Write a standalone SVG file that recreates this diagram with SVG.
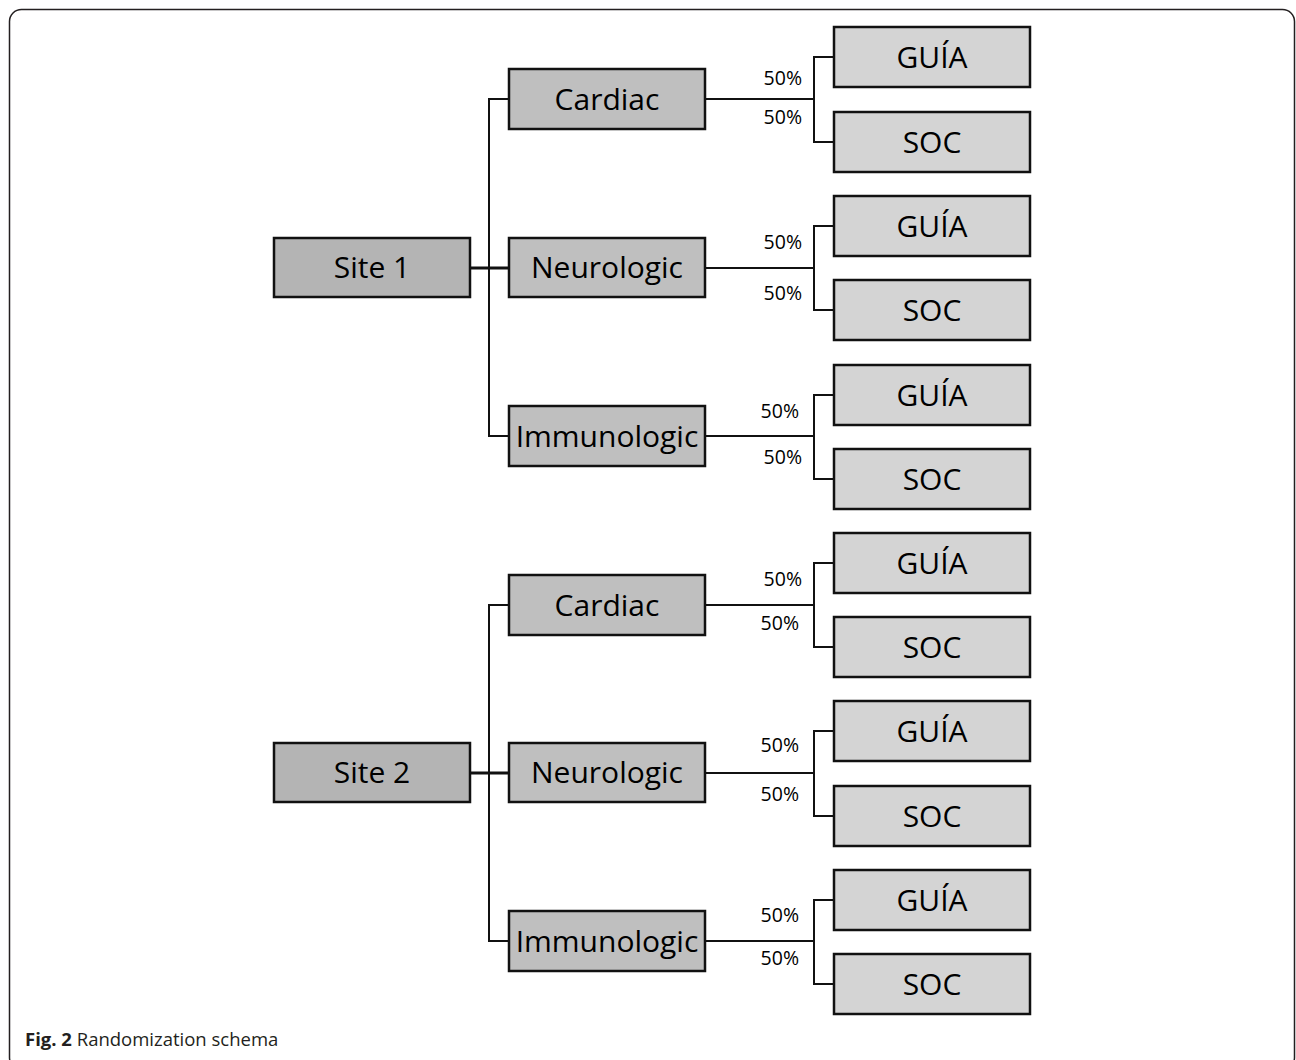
<svg xmlns="http://www.w3.org/2000/svg" width="1296" height="1060" viewBox="0 0 1296 1060">
<style>
.frame{fill:#fff;stroke:#231f20;stroke-width:1.5}
.site{fill:#b4b4b4;stroke:#111;stroke-width:2.5}
.cat{fill:#bfbfbf;stroke:#111;stroke-width:2.5}
.leaf{fill:#d4d4d4;stroke:#111;stroke-width:2.5}
.lbl{font-family:"Open Sans","Liberation Sans",sans-serif;font-size:30px;fill:#000;text-anchor:middle}
.pct{font-family:"Open Sans","Liberation Sans",sans-serif;font-size:19.5px;fill:#000;text-anchor:end}
.ln{fill:none;stroke:#111;stroke-width:2}
.thick{fill:none;stroke:#111;stroke-width:3}
.cap{font-family:"Open Sans","Liberation Sans",sans-serif;font-size:18.5px;fill:#231f20}
</style>
<rect class="frame" x="9.5" y="9.5" width="1285" height="1060" rx="12"/>
<g id="connectors">
<path class="thick" d="M470 268H508M470 773H508"/>
<path class="ln" d="M508 99H489V436H508"/>
<path class="ln" d="M508 605H489V941H508"/>
<path class="ln" d="M706 99H814M834 57H814V142H834"/>
<path class="ln" d="M706 268H814M834 226H814V310H834"/>
<path class="ln" d="M706 436H814M834 395H814V479H834"/>
<path class="ln" d="M706 605H814M834 563H814V647H834"/>
<path class="ln" d="M706 773H814M834 731H814V816H834"/>
<path class="ln" d="M706 941H814M834 900H814V984H834"/>
<g id="pct-labels">
<text class="pct" x="802" y="85">50%</text>
<text class="pct" x="802" y="124">50%</text>
<text class="pct" x="802" y="249">50%</text>
<text class="pct" x="802" y="300">50%</text>
<text class="pct" x="799" y="418">50%</text>
<text class="pct" x="802" y="464">50%</text>
<text class="pct" x="802" y="586">50%</text>
<text class="pct" x="799" y="630">50%</text>
<text class="pct" x="799" y="752">50%</text>
<text class="pct" x="799" y="801">50%</text>
<text class="pct" x="799" y="922">50%</text>
<text class="pct" x="799" y="965">50%</text>
</g>
</g>
<g id="site1"><rect class="site" x="274" y="238" width="196" height="59"/><text class="lbl" x="372" y="278">Site 1</text></g>
<g id="site2"><rect class="site" x="274" y="743" width="196" height="59"/><text class="lbl" x="372" y="783">Site 2</text></g>
<g id="cardiac1"><rect class="cat" x="509" y="69" width="196" height="60"/><text class="lbl" x="607" y="109.5">Cardiac</text></g>
<g id="neuro1"><rect class="cat" x="509" y="238" width="196" height="59"/><text class="lbl" x="607" y="278">Neurologic</text></g>
<g id="immuno1"><rect class="cat" x="509" y="406" width="196" height="60"/><text class="lbl" x="607" y="446.5">Immunologic</text></g>
<g id="cardiac2"><rect class="cat" x="509" y="575" width="196" height="60"/><text class="lbl" x="607" y="615.5">Cardiac</text></g>
<g id="neuro2"><rect class="cat" x="509" y="743" width="196" height="59"/><text class="lbl" x="607" y="783">Neurologic</text></g>
<g id="immuno2"><rect class="cat" x="509" y="911" width="196" height="60"/><text class="lbl" x="607" y="951.5">Immunologic</text></g>
<g id="guia1"><rect class="leaf" x="834" y="27" width="196" height="60"/><text class="lbl" x="932" y="67.5">GUÍA</text></g>
<g id="soc1"><rect class="leaf" x="834" y="112" width="196" height="60"/><text class="lbl" x="932" y="152.5">SOC</text></g>
<g id="guia2"><rect class="leaf" x="834" y="196" width="196" height="60"/><text class="lbl" x="932" y="236.5">GUÍA</text></g>
<g id="soc2"><rect class="leaf" x="834" y="280" width="196" height="60"/><text class="lbl" x="932" y="320.5">SOC</text></g>
<g id="guia3"><rect class="leaf" x="834" y="365" width="196" height="60"/><text class="lbl" x="932" y="405.5">GUÍA</text></g>
<g id="soc3"><rect class="leaf" x="834" y="449" width="196" height="60"/><text class="lbl" x="932" y="489.5">SOC</text></g>
<g id="guia4"><rect class="leaf" x="834" y="533" width="196" height="60"/><text class="lbl" x="932" y="573.5">GUÍA</text></g>
<g id="soc4"><rect class="leaf" x="834" y="617" width="196" height="60"/><text class="lbl" x="932" y="657.5">SOC</text></g>
<g id="guia5"><rect class="leaf" x="834" y="701" width="196" height="60"/><text class="lbl" x="932" y="741.5">GUÍA</text></g>
<g id="soc5"><rect class="leaf" x="834" y="786" width="196" height="60"/><text class="lbl" x="932" y="826.5">SOC</text></g>
<g id="guia6"><rect class="leaf" x="834" y="870" width="196" height="60"/><text class="lbl" x="932" y="910.5">GUÍA</text></g>
<g id="soc6"><rect class="leaf" x="834" y="954" width="196" height="60"/><text class="lbl" x="932" y="994.5">SOC</text></g>
<text class="cap" x="25" y="1046"><tspan font-weight="bold">Fig. 2</tspan> Randomization schema</text>
</svg>
